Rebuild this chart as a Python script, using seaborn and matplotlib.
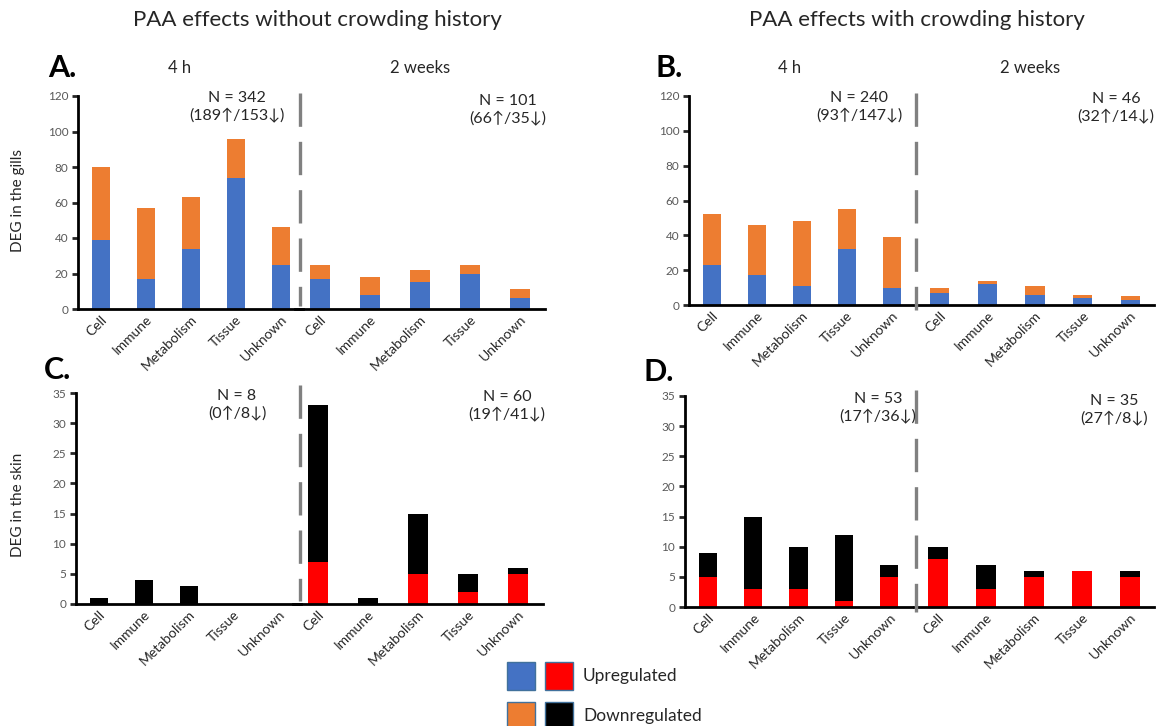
import matplotlib
matplotlib.use("Agg")
import matplotlib.pyplot as plt
import seaborn as sns
from matplotlib.lines import Line2D
from matplotlib.patches import Rectangle

# categorias y datos (DEG por categoria, arriba = upregulated, abajo = downregulated)
categories = ["Cell", "Immune", "Metabolism", "Tissue", "Unknown"]

gills_nohist_4h_up = [39, 17, 34, 74, 25]
gills_nohist_4h_down = [41, 40, 29, 22, 21]
gills_nohist_2w_up = [17, 8, 15, 20, 6]
gills_nohist_2w_down = [8, 10, 7, 5, 5]

gills_hist_4h_up = [23, 17, 11, 32, 10]
gills_hist_4h_down = [29, 29, 37, 23, 29]
gills_hist_2w_up = [7, 12, 6, 4, 3]
gills_hist_2w_down = [3, 2, 5, 2, 2]

skin_nohist_4h_up = [0, 0, 0, 0, 0]
skin_nohist_4h_down = [1, 4, 3, 0, 0]
skin_nohist_2w_up = [7, 0, 5, 2, 5]
skin_nohist_2w_down = [26, 1, 10, 3, 1]

skin_hist_4h_up = [5, 3, 3, 1, 5]
skin_hist_4h_down = [4, 12, 7, 11, 2]
skin_hist_2w_up = [8, 3, 5, 6, 5]
skin_hist_2w_down = [2, 4, 1, 0, 1]

n_labels = {
    "A": ["N = 342\n(189↑/153↓)", "N = 101\n(66↑/35↓)"],
    "B": ["N = 240\n(93↑/147↓)", "N = 46\n(32↑/14↓)"],
    "C": ["N = 8\n(0↑/8↓)", "N = 60\n(19↑/41↓)"],
    "D": ["N = 53\n(17↑/36↓)", "N = 35\n(27↑/8↓)"],
}

BLUE, ORANGE, RED, BLACK = "#4472C4", "#ED7D31", "#FF0000", "#000000"
GREY_TXT = "#595959"
DARK_TXT = "#262626"

sns.set_style("white")
plt.rcParams["font.family"] = ["Lato", "DejaVu Sans"]

W, H = 1157, 726
fig = plt.figure(figsize=(W / 100, H / 100), dpi=100)


def px_axes(x0, y0, x1, y1):
    return fig.add_axes([x0 / W, 1 - y1 / H, (x1 - x0) / W, (y1 - y0) / H])


def fx(x):
    return x / W


def fy(y):
    return 1 - y / H


def draw_half(ax, up, down, up_color, down_color, ymax, step, show_y):
    total = [u + d for u, d in zip(up, down)]
    sns.barplot(x=categories, y=total, color=down_color, width=0.4,
                saturation=1, linewidth=0, ax=ax)
    sns.barplot(x=categories, y=up, color=up_color, width=0.4,
                saturation=1, linewidth=0, ax=ax)
    ax.set_xlim(-0.5, 4.5)
    ax.set_ylim(0, ymax)
    ax.set_xlabel("")
    ax.set_ylabel("")
    ax.patch.set_alpha(0)
    for s in ["top", "right"]:
        ax.spines[s].set_visible(False)
    ax.spines["bottom"].set_linewidth(2)
    ax.spines["bottom"].set_color("black")
    ax.tick_params(axis="x", length=0, pad=3)
    for lab in ax.get_xticklabels():
        lab.set_rotation(45)
        lab.set_ha("right")
        lab.set_rotation_mode("anchor")
        lab.set_fontsize(10)
        lab.set_color(DARK_TXT)
    if show_y:
        ax.spines["left"].set_linewidth(2)
        ax.spines["left"].set_color("black")
        ax.set_yticks(range(0, ymax + 1, step))
        ax.tick_params(axis="y", direction="out", length=4, width=2,
                       labelsize=8.5, labelcolor=GREY_TXT, left=True, pad=3)
    else:
        ax.spines["left"].set_visible(False)
        ax.set_yticks([])


# paneles: (letra, ejes izq, ejes der, datos, colores, ymax, paso, x linea, y linea)
panels = [
    ("A", (78, 96, 303, 309), (295, 96, 545, 309),
     (gills_nohist_4h_up, gills_nohist_4h_down, gills_nohist_2w_up, gills_nohist_2w_down),
     (BLUE, ORANGE), 120, 20, 300, (93, 306)),
    ("B", (689, 96, 914, 305), (916, 96, 1154, 305),
     (gills_hist_4h_up, gills_hist_4h_down, gills_hist_2w_up, gills_hist_2w_down),
     (BLUE, ORANGE), 120, 20, 916, (93, 310)),
    ("C", (76, 393, 301, 604), (293, 393, 543, 604),
     (skin_nohist_4h_up, skin_nohist_4h_down, skin_nohist_2w_up, skin_nohist_2w_down),
     (RED, BLACK), 35, 5, 300, (385, 601)),
    ("D", (685, 396, 912, 607), (914, 396, 1154, 607),
     (skin_hist_4h_up, skin_hist_4h_down, skin_hist_2w_up, skin_hist_2w_down),
     (RED, BLACK), 35, 5, 916, (390, 612)),
]

n_pos = {
    "A": [(237, 107), (508, 110)],
    "B": [(859, 107), (1116, 108)],
    "C": [(237, 405), (507, 406)],
    "D": [(878, 408), (1114, 410)],
}

for letter, left_box, right_box, data, cols, ymax, step, xdash, ydash in panels:
    ax_l = px_axes(*left_box)
    ax_r = px_axes(*right_box)
    draw_half(ax_l, data[0], data[1], cols[0], cols[1], ymax, step, True)
    draw_half(ax_r, data[2], data[3], cols[0], cols[1], ymax, step, False)
    fig.add_artist(Line2D([fx(xdash), fx(xdash)], [fy(ydash[0]), fy(ydash[1])],
                          color="#808080", lw=2.4, dashes=(10, 4.5),
                          transform=fig.transFigure))
    for txt, (x, y) in zip(n_labels[letter], n_pos[letter]):
        fig.text(fx(x), fy(y), txt, ha="center", va="center", fontsize=11.5,
                 color=DARK_TXT, linespacing=1.25)

# letras de panel
for letter, x, y in [("A.", 48, 68), ("B.", 655, 68), ("C.", 44, 370), ("D.", 644, 372)]:
    fig.text(fx(x), fy(y), letter, ha="left", va="center", fontsize=22,
             fontweight="bold", color="black")

# titulos y tiempos
fig.text(fx(317), fy(20), "PAA effects without crowding history", ha="center",
         va="center", fontsize=16, color=DARK_TXT)
fig.text(fx(917), fy(20), "PAA effects with crowding history", ha="center",
         va="center", fontsize=16, color=DARK_TXT)
for x, txt in [(180, "4 h"), (420, "2 weeks"), (790, "4 h"), (1030, "2 weeks")]:
    fig.text(fx(x), fy(68), txt, ha="center", va="center", fontsize=12,
             color=DARK_TXT)

fig.text(fx(18), fy(200), "DEG in the gills", rotation=90, ha="center",
         va="center", fontsize=11, color=DARK_TXT)
fig.text(fx(18), fy(505), "DEG in the skin", rotation=90, ha="center",
         va="center", fontsize=11, color=DARK_TXT)

# leyenda manual (dos muestras por fila)
for row, (c1, c2, label) in enumerate([(BLUE, RED, "Upregulated"),
                                       (ORANGE, BLACK, "Downregulated")]):
    ytop = 662 + row * 40
    for xl, c in [(507, c1), (545, c2)]:
        fig.add_artist(Rectangle((fx(xl), fy(ytop + 28)), 28 / W, 28 / H,
                                 facecolor=c, edgecolor="#41719C", lw=1,
                                 transform=fig.transFigure))
    fig.text(fx(583), fy(ytop + 14), label, ha="left", va="center",
             fontsize=12.5, color=DARK_TXT)

fig.savefig("out.png", dpi=100, facecolor="white")
